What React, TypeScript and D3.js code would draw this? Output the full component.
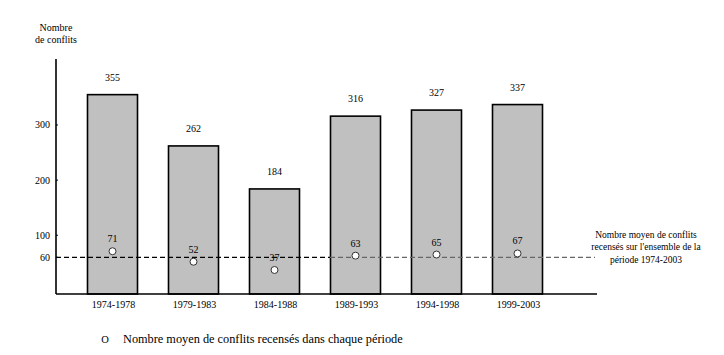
import React from "react";
import * as d3 from "d3";

const periods = ["1974-1978", "1979-1983", "1984-1988", "1989-1993", "1994-1998", "1999-2003"];
const totals = [355, 262, 184, 316, 327, 337];
const averages = [71, 52, 37, 63, 65, 67];
const yTicks = [60, 100, 200, 300];
const overallMean = 60;

const W = 724;
const H = 355;

export default function App() {
  const x = d3.scaleBand<string>().domain(periods).range([72, 558]).paddingInner(0.38).paddingOuter(0.19);
  const y = d3.scaleLinear().domain([0, 420]).range([290.4, 58.8]);
  const font = "Liberation Serif";
  const axisX = 56;
  const axisBottom = 294;
  const bw = 50;
  const cx = (p: string) => (x(p) as number) + x.bandwidth() / 2;

  return (
    <svg width={W} height={H} style={{ position: "absolute", left: 0, top: 0, background: "#fff", fontFamily: font }}>
      <rect width={W} height={H} fill="#fff" />
      {/* axis title */}
      <text x={56} y={31} fontSize={10} textAnchor="middle">Nombre</text>
      <text x={56} y={43} fontSize={10} textAnchor="middle">de conflits</text>

      {/* bars */}
      {periods.map((p, i) => (
        <g key={p}>
          <rect x={cx(p) - bw / 2} y={y(totals[i])} width={bw} height={axisBottom - y(totals[i])} fill="#c0c0c0" stroke="#000" strokeWidth={1.6} />
          <text x={cx(p)} y={y(totals[i]) - 14} fontSize={10} textAnchor="middle">{totals[i]}</text>
          <text x={cx(p) + 1} y={axisBottom + 14} fontSize={10} textAnchor="middle">{p}</text>
        </g>
      ))}

      {/* dashed mean line */}
      <line x1={axisX} x2={330} y1={y(overallMean)} y2={y(overallMean)} stroke="#000" strokeWidth={1.2} strokeDasharray="5,3" />
      <line x1={330} x2={595} y1={y(overallMean)} y2={y(overallMean)} stroke="#666" strokeWidth={1.2} strokeDasharray="5,3" />

      {/* average points */}
      {periods.map((p, i) => (
        <g key={"a" + p}>
          <circle cx={cx(p)} cy={y(averages[i])} r={3.5} fill="#fff" stroke="#333" strokeWidth={1} />
          <text x={cx(p)} y={y(averages[i]) - 9} fontSize={10} textAnchor="middle">{averages[i]}</text>
        </g>
      ))}

      {/* axes */}
      <line x1={axisX} x2={axisX} y1={59} y2={axisBottom} stroke="#000" strokeWidth={1.6} />
      <line x1={axisX} x2={597} y1={axisBottom} y2={axisBottom} stroke="#000" strokeWidth={1.6} />
      {yTicks.map((t) => (
        <g key={t}>
          <line x1={axisX} x2={axisX + 2} y1={y(t)} y2={y(t)} stroke="#000" />
          <text x={50} y={y(t) + 3.5} fontSize={10} textAnchor="end">{t}</text>
        </g>
      ))}

      {/* annotation */}
      <text x={646} y={238} fontSize={9.5} textAnchor="middle">Nombre moyen de conflits</text>
      <text x={646} y={250} fontSize={9.5} textAnchor="middle">recensés sur  l'ensemble de la</text>
      <text x={646} y={263} fontSize={9.5} textAnchor="middle">période 1974-2003</text>

      {/* legend */}
      <text x={105} y={343} fontSize={10.5} textAnchor="middle">O</text>
      <text x={123} y={343} fontSize={12.3}>Nombre moyen de conflits recensés dans chaque période</text>
    </svg>
  );
}
